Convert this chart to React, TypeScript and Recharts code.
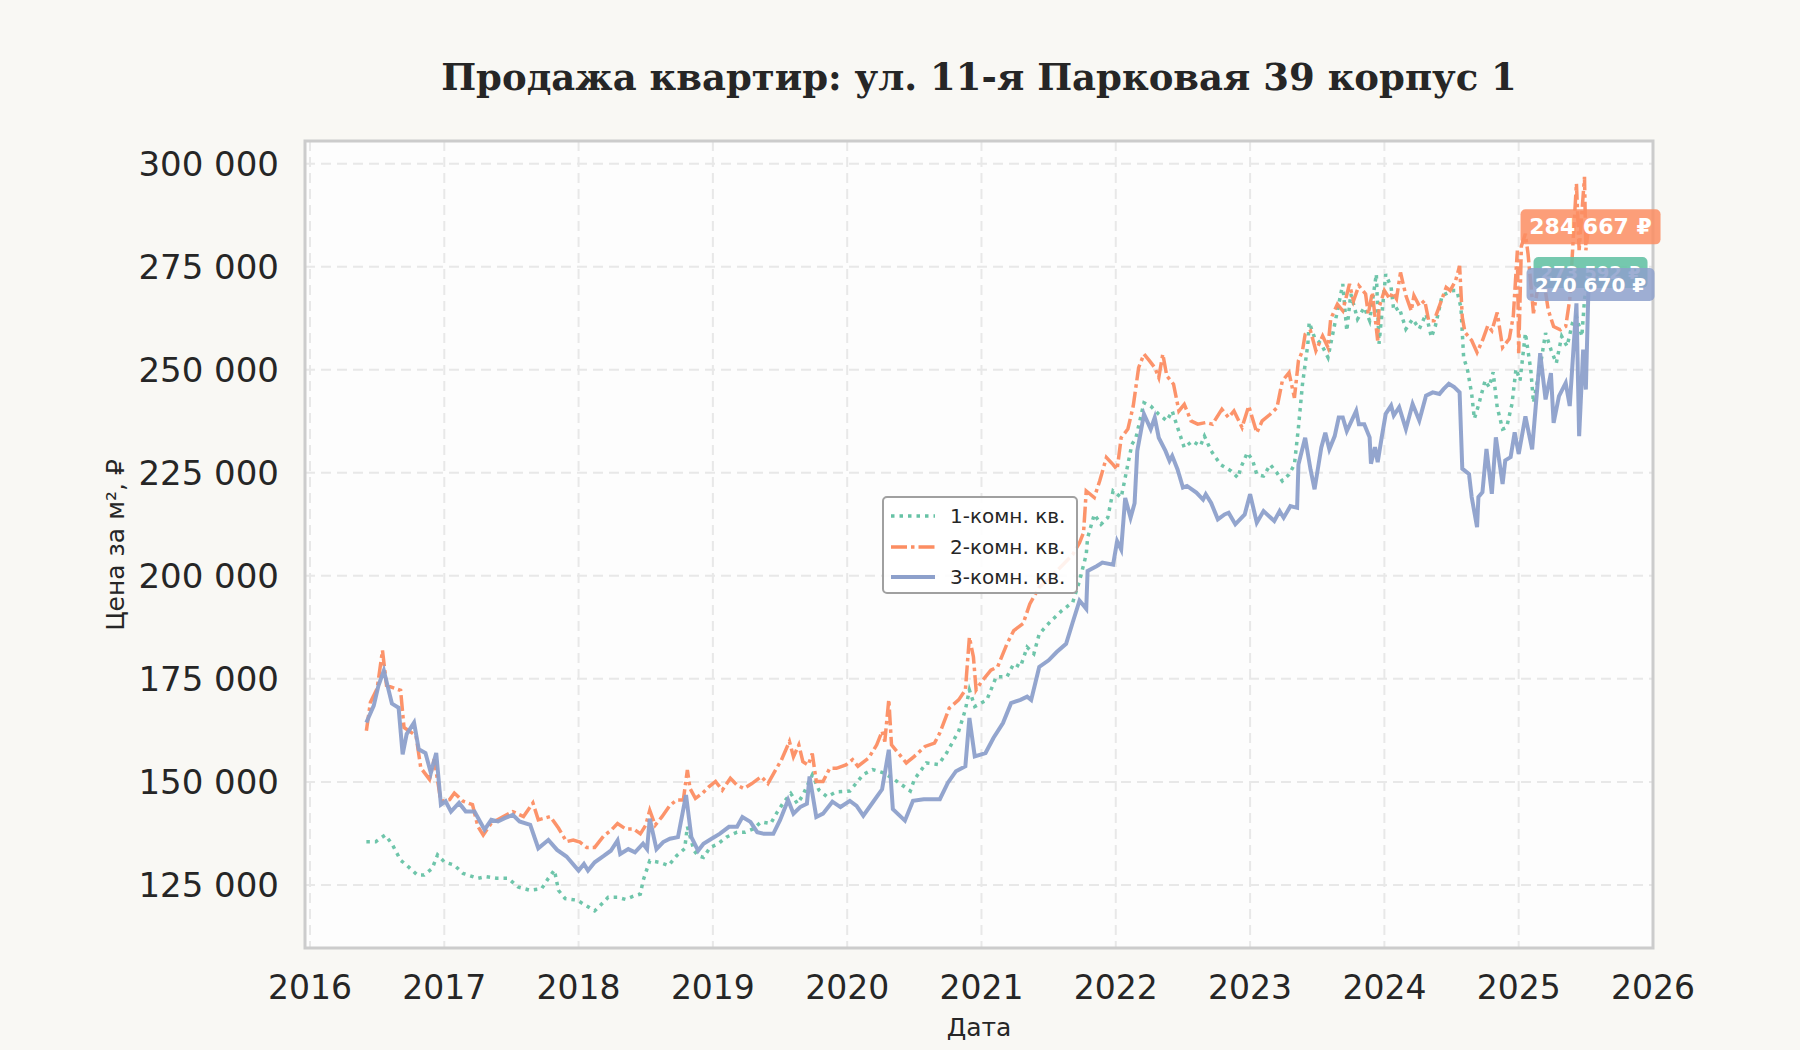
import { LineChart, Line, XAxis, YAxis, CartesianGrid, ReferenceArea, LabelList, Label } from "recharts";

// Ось X: годы, ось Y: цена за м²
const yearTicks = [2016, 2017, 2018, 2019, 2020, 2021, 2022, 2023, 2024, 2025, 2026];
const priceTicks = [125000, 150000, 175000, 200000, 225000, 250000, 275000, 300000];

// [год, цена за м²]
const oneRoom: [number, number][] = [
    [2016.42, 135500], [2016.49, 135500], [2016.56, 137100], [2016.61, 135000], [2016.675, 131000], [2016.72, 129800],
    [2016.8, 127400], [2016.85, 127400], [2016.91, 129000], [2016.95, 132300], [2017.0, 130600], [2017.075, 129800],
    [2017.14, 127800], [2017.25, 126600], [2017.31, 127000], [2017.39, 126600], [2017.475, 126600], [2017.55, 124500],
    [2017.64, 123700], [2017.725, 124100], [2017.775, 126600], [2017.82, 128600], [2017.85, 123700], [2017.9, 121700],
    [2017.99, 121300], [2018.04, 120300], [2018.12, 118700], [2018.17, 120300], [2018.22, 122000], [2018.29, 122000],
    [2018.35, 121500], [2018.41, 122300], [2018.46, 122800], [2018.48, 126000], [2018.53, 130900], [2018.6, 130500],
    [2018.67, 129700], [2018.73, 132100], [2018.79, 133800], [2018.81, 139100], [2018.86, 133300], [2018.89, 132100],
    [2018.93, 131700], [2018.98, 134100], [2019.04, 135000], [2019.1, 136600], [2019.18, 137800], [2019.24, 137800],
    [2019.3, 138600], [2019.36, 140300], [2019.43, 139900], [2019.48, 142700], [2019.53, 145200], [2019.58, 147200],
    [2019.63, 144700], [2019.67, 146800], [2019.74, 151700], [2019.79, 148000], [2019.85, 146400], [2019.92, 147600],
    [2020.02, 147800], [2020.12, 151800], [2020.19, 153000], [2020.27, 152200], [2020.35, 150600], [2020.47, 147800],
    [2020.5, 150600], [2020.59, 154600], [2020.68, 154200], [2020.74, 157000], [2020.83, 162300], [2020.88, 167500],
    [2020.91, 172300], [2020.95, 168300], [2021.04, 169900], [2021.11, 175500], [2021.19, 175500], [2021.24, 178700],
    [2021.29, 177900], [2021.34, 182700], [2021.39, 181100], [2021.43, 185900], [2021.51, 188800], [2021.6, 191600],
    [2021.68, 193600], [2021.73, 198800], [2021.78, 205200], [2021.79, 209200], [2021.84, 214900], [2021.89, 212500],
    [2021.94, 214100], [2021.98, 220600], [2022.04, 219000], [2022.07, 223800], [2022.12, 231900], [2022.15, 233500],
    [2022.21, 242000], [2022.26, 241200], [2022.32, 239200], [2022.38, 237600], [2022.42, 240000], [2022.46, 236000],
    [2022.51, 231100], [2022.57, 232700], [2022.63, 231500], [2022.66, 233900], [2022.71, 230300], [2022.78, 227000],
    [2022.86, 225400], [2022.91, 223800], [2022.93, 226200], [2022.98, 229900], [2023.02, 227900], [2023.05, 224600],
    [2023.1, 224200], [2023.15, 227000], [2023.2, 225000], [2023.24, 223000], [2023.29, 224600], [2023.33, 227000],
    [2023.36, 236000], [2023.39, 246500], [2023.43, 256200], [2023.44, 261500], [2023.48, 257800], [2023.53, 256200],
    [2023.58, 253000], [2023.62, 259400], [2023.69, 270800], [2023.72, 259400], [2023.75, 268400], [2023.8, 262300],
    [2023.85, 265100], [2023.89, 261900], [2023.94, 273200], [2023.96, 256300], [2024.01, 273200], [2024.05, 270000],
    [2024.07, 264300], [2024.11, 265100], [2024.16, 259900], [2024.21, 262300], [2024.26, 259900], [2024.31, 263500],
    [2024.35, 257900], [2024.38, 260700], [2024.43, 268000], [2024.51, 269200], [2024.54, 269200], [2024.57, 265100],
    [2024.59, 253000], [2024.62, 249800], [2024.65, 244100], [2024.67, 238100], [2024.7, 241300], [2024.75, 247400],
    [2024.78, 245800], [2024.81, 249400], [2024.84, 240900], [2024.88, 235600], [2024.91, 236000], [2024.95, 241700],
    [2024.98, 250200], [2025.01, 247400], [2025.05, 258900], [2025.09, 250000], [2025.11, 242000], [2025.16, 250800],
    [2025.2, 258900], [2025.24, 254900], [2025.28, 251600], [2025.32, 258100], [2025.36, 255700], [2025.4, 261300],
    [2025.43, 262900], [2025.47, 258100], [2025.49, 267000], [2025.52, 273592],
];

const twoRoom: [number, number][] = [
    [2016.42, 162400], [2016.45, 169300], [2016.5, 172600], [2016.54, 181900], [2016.57, 173400], [2016.64, 172600],
    [2016.675, 172200], [2016.7, 163200], [2016.79, 161200], [2016.825, 153400], [2016.89, 150600], [2016.925, 155500],
    [2016.975, 145300], [2017.04, 145700], [2017.075, 147300], [2017.14, 145300], [2017.21, 144500], [2017.25, 139200],
    [2017.29, 137100], [2017.35, 140000], [2017.44, 141600], [2017.51, 142800], [2017.59, 141600], [2017.66, 144900],
    [2017.7, 140800], [2017.79, 141600], [2017.85, 138800], [2017.91, 135500], [2017.96, 135900], [2018.01, 135400],
    [2018.06, 134100], [2018.12, 134100], [2018.19, 137000], [2018.24, 138200], [2018.29, 139900], [2018.35, 138600],
    [2018.41, 138600], [2018.46, 137400], [2018.5, 139500], [2018.53, 143100], [2018.57, 139500], [2018.62, 141500],
    [2018.68, 144300], [2018.73, 145600], [2018.78, 145600], [2018.81, 152900], [2018.83, 148400], [2018.87, 146000],
    [2018.92, 147200], [2018.97, 148800], [2019.02, 150100], [2019.07, 148000], [2019.13, 150900], [2019.18, 149200],
    [2019.23, 148400], [2019.29, 149600], [2019.36, 151300], [2019.41, 149600], [2019.46, 152500], [2019.51, 155300],
    [2019.57, 159800], [2019.6, 156100], [2019.64, 159000], [2019.67, 154900], [2019.71, 154100], [2019.74, 156900],
    [2019.77, 150100], [2019.82, 150100], [2019.87, 153300], [2019.92, 153300], [2019.99, 154100], [2020.04, 155400],
    [2020.08, 153800], [2020.16, 155800], [2020.22, 159000], [2020.26, 162300], [2020.28, 159800], [2020.31, 170000],
    [2020.33, 159000], [2020.39, 156600], [2020.44, 154600], [2020.5, 156200], [2020.58, 158600], [2020.65, 159400],
    [2020.69, 161900], [2020.76, 167900], [2020.83, 169900], [2020.88, 172300], [2020.91, 185100], [2020.94, 180300],
    [2020.96, 172300], [2021.0, 174300], [2021.07, 177100], [2021.12, 177900], [2021.19, 183500], [2021.24, 186700],
    [2021.31, 188400], [2021.36, 193200], [2021.43, 197200], [2021.51, 199600], [2021.61, 202800], [2021.68, 205200],
    [2021.73, 208000], [2021.76, 210500], [2021.78, 220600], [2021.84, 219000], [2021.88, 223000], [2021.93, 228700],
    [2021.98, 227000], [2022.01, 225800], [2022.04, 233500], [2022.09, 235600], [2022.13, 241200], [2022.17, 250500],
    [2022.21, 253800], [2022.25, 252200], [2022.29, 250500], [2022.32, 248100], [2022.35, 253800], [2022.38, 248500],
    [2022.43, 246500], [2022.47, 240000], [2022.51, 241600], [2022.56, 237600], [2022.61, 236800], [2022.67, 237200],
    [2022.72, 236800], [2022.79, 240400], [2022.84, 238400], [2022.88, 240000], [2022.94, 236000], [2022.99, 241200],
    [2023.05, 234700], [2023.09, 237600], [2023.15, 239200], [2023.2, 240800], [2023.24, 247300], [2023.29, 249300],
    [2023.33, 243200], [2023.36, 252200], [2023.39, 254600], [2023.41, 258600], [2023.45, 259400], [2023.49, 254600],
    [2023.54, 258200], [2023.58, 255400], [2023.6, 262300], [2023.65, 265900], [2023.69, 264300], [2023.74, 270800],
    [2023.77, 266700], [2023.81, 270400], [2023.86, 268400], [2023.88, 263500], [2023.91, 268800], [2023.95, 257100],
    [2023.96, 265100], [2024.0, 269200], [2024.04, 267200], [2024.06, 268800], [2024.09, 267200], [2024.12, 273600],
    [2024.16, 268000], [2024.2, 264300], [2024.22, 268000], [2024.26, 265500], [2024.3, 266800], [2024.33, 261900],
    [2024.37, 261900], [2024.41, 265500], [2024.46, 270000], [2024.49, 269200], [2024.53, 271600], [2024.56, 275200],
    [2024.58, 262700], [2024.6, 259100], [2024.65, 257100], [2024.69, 254200], [2024.73, 257100], [2024.77, 260700],
    [2024.8, 259500], [2024.84, 263900], [2024.88, 255400], [2024.93, 257500], [2024.96, 263100], [2024.99, 278900],
    [2025.0, 254000], [2025.02, 280000], [2025.05, 283000], [2025.07, 278000], [2025.11, 263700], [2025.14, 269400],
    [2025.19, 271000], [2025.22, 264500], [2025.26, 260500], [2025.31, 259700], [2025.35, 260500], [2025.38, 267000],
    [2025.43, 295200], [2025.45, 279000], [2025.47, 287900], [2025.49, 296800], [2025.5, 279000], [2025.52, 284667],
];

const threeRoom: [number, number][] = [
    [2016.42, 164400], [2016.475, 168500], [2016.51, 173400], [2016.55, 177000], [2016.61, 169000], [2016.66, 168000],
    [2016.69, 156700], [2016.72, 161600], [2016.775, 164400], [2016.81, 157900], [2016.86, 157000], [2016.9, 152200],
    [2016.94, 157000], [2016.975, 144500], [2017.01, 145300], [2017.05, 142800], [2017.11, 144900], [2017.16, 142800],
    [2017.225, 142800], [2017.3, 138400], [2017.35, 140800], [2017.4, 140400], [2017.45, 141200], [2017.51, 142000],
    [2017.56, 140400], [2017.64, 139600], [2017.7, 133900], [2017.775, 135900], [2017.84, 133500], [2017.91, 131900],
    [2018.0, 128500], [2018.04, 130100], [2018.07, 128500], [2018.12, 130500], [2018.19, 132100], [2018.24, 133300],
    [2018.29, 135800], [2018.31, 132500], [2018.37, 133700], [2018.42, 132900], [2018.48, 135000], [2018.51, 133700],
    [2018.53, 141100], [2018.58, 133700], [2018.63, 135400], [2018.68, 136200], [2018.74, 136600], [2018.8, 146800],
    [2018.84, 136600], [2018.89, 133300], [2018.93, 135000], [2018.99, 136200], [2019.05, 137400], [2019.12, 139100],
    [2019.18, 139100], [2019.22, 141500], [2019.28, 140300], [2019.33, 137800], [2019.38, 137400], [2019.45, 137400],
    [2019.5, 140700], [2019.56, 145600], [2019.6, 142300], [2019.65, 143900], [2019.7, 144700], [2019.72, 151300],
    [2019.77, 141500], [2019.82, 142300], [2019.89, 145200], [2019.95, 143900], [2020.02, 145400], [2020.07, 144200],
    [2020.12, 141800], [2020.19, 145000], [2020.26, 148200], [2020.31, 157800], [2020.34, 143400], [2020.43, 140600],
    [2020.49, 145400], [2020.57, 145800], [2020.63, 145800], [2020.69, 145800], [2020.75, 149800], [2020.81, 152600],
    [2020.88, 153800], [2020.91, 165500], [2020.95, 156200], [2021.03, 157000], [2021.09, 160700], [2021.16, 164300],
    [2021.22, 169100], [2021.29, 169900], [2021.34, 170700], [2021.37, 169900], [2021.43, 177900], [2021.5, 179500],
    [2021.56, 181500], [2021.63, 183500], [2021.68, 188800], [2021.73, 194000], [2021.78, 192000], [2021.79, 201200],
    [2021.86, 202400], [2021.9, 203200], [2021.98, 202700], [2022.01, 208400], [2022.04, 206400], [2022.07, 218900],
    [2022.11, 214100], [2022.14, 217600], [2022.16, 230300], [2022.21, 239200], [2022.26, 235600], [2022.29, 238400],
    [2022.32, 233500], [2022.37, 230300], [2022.4, 227900], [2022.42, 229100], [2022.46, 225800], [2022.5, 221400],
    [2022.53, 221800], [2022.6, 220200], [2022.65, 218500], [2022.67, 219800], [2022.71, 217700], [2022.76, 213700],
    [2022.81, 214900], [2022.84, 215300], [2022.89, 212500], [2022.96, 214900], [2023.0, 219800], [2023.05, 212900],
    [2023.1, 215700], [2023.18, 213300], [2023.22, 215700], [2023.25, 214100], [2023.3, 216900], [2023.35, 216500],
    [2023.36, 227000], [2023.41, 233500], [2023.45, 225800], [2023.48, 221000], [2023.53, 231100], [2023.56, 234700],
    [2023.59, 230700], [2023.63, 233900], [2023.66, 238400], [2023.69, 238400], [2023.72, 235100], [2023.79, 240000],
    [2023.81, 236800], [2023.85, 236800], [2023.89, 233600], [2023.9, 227200], [2023.93, 231200], [2023.95, 227600],
    [2023.98, 233600], [2024.01, 239300], [2024.05, 241300], [2024.07, 238900], [2024.11, 240900], [2024.16, 235600],
    [2024.21, 241700], [2024.26, 237700], [2024.31, 243700], [2024.36, 244500], [2024.41, 244100], [2024.44, 245300],
    [2024.48, 246600], [2024.52, 245800], [2024.56, 244500], [2024.58, 226000], [2024.63, 224700], [2024.65, 219100],
    [2024.69, 211800], [2024.7, 219100], [2024.73, 220300], [2024.76, 230800], [2024.8, 219900], [2024.83, 233600],
    [2024.88, 222300], [2024.9, 228000], [2024.94, 228800], [2024.97, 234800], [2025.0, 229600], [2025.05, 238700],
    [2025.1, 230700], [2025.16, 254000], [2025.2, 242800], [2025.24, 249200], [2025.26, 237100], [2025.3, 243600],
    [2025.35, 246800], [2025.38, 241200], [2025.43, 266100], [2025.45, 233900], [2025.48, 254900], [2025.5, 245200],
    [2025.52, 270670],
];

const seriesNames = ["1-комн. кв.", "2-комн. кв.", "3-комн. кв."];

const GREEN = "#66c2a5";
const ORANGE = "#fc8d62";
const BLUE = "#8da0cb";
const FONT = "'DejaVu Sans', sans-serif";

const toPoints = (rows: [number, number][]) => rows.map(([t, v]) => ({ t, v }));

const fmt = (v: number) => String(Math.round(v)).replace(/\B(?=(\d{3})+(?!\d))/g, " ");

// подпись последнего значения в плашке
const endLabel = (total: number, color: string, fontSize: number, boxW: number, opacity: number) =>
    (props: any) => {
        const { x, y, value, index } = props;
        if (index !== total - 1 || x == null || y == null) return null;
        const h = fontSize + 13;
        return (
            <g>
                <rect x={x + 2 - boxW / 2} y={y - h / 2} width={boxW} height={h} rx={5} fill={color} fillOpacity={opacity} />
                <text x={x + 2} y={y} textAnchor="middle" dominantBaseline="central" fill="#fff"
                    fontFamily={FONT} fontWeight="bold" fontSize={fontSize}>
                    {fmt(value)} ₽
                </text>
            </g>
        );
    };

const legendItems = [
    { name: seriesNames[0], color: GREEN, dash: "3.5 5", width: 3.5 },
    { name: seriesNames[1], color: ORANGE, dash: "16 4 3.5 4", width: 3.5 },
    { name: seriesNames[2], color: BLUE, dash: undefined, width: 4 },
];

export default function App() {
    const xDomain = [2015.963, 2026];
    const yDomain = [109700, 305500];

    return (
        <div style={{ position: "absolute", left: 0, top: 0, width: 1800, height: 1050, background: "#f9f8f4", fontFamily: FONT }}>
            <div style={{
                position: "absolute", left: 979, top: 54, transform: "translateX(-50%)", whiteSpace: "nowrap",
                fontFamily: "'DejaVu Serif', serif", fontWeight: "bold", fontSize: 37, lineHeight: "46px", color: "#262626",
            }}>
                Продажа квартир: ул. 11-я Парковая 39 корпус 1
            </div>

            <LineChart width={1800} height={1050} margin={{ top: 141, right: 147, bottom: 0, left: 0 }}>
                <CartesianGrid stroke="#e8e8e8" strokeWidth={2} strokeDasharray="10 6" fill="#fdfdfd" />
                <XAxis
                    type="number"
                    dataKey="t"
                    domain={xDomain}
                    ticks={yearTicks}
                    interval={0}
                    allowDataOverflow
                    height={102}
                    axisLine={false}
                    tickLine={false}
                    tickSize={0}
                    tickMargin={28}
                    tick={{ fontSize: 33, fill: "#262626", fontFamily: FONT }}
                >
                    <Label content={() => (
                        <text x={979} y={1027} textAnchor="middle" dominantBaseline="central" fontSize={25} fill="#262626" fontFamily={FONT}>Дата</text>
                    )} />
                </XAxis>
                <YAxis
                    type="number"
                    domain={yDomain}
                    ticks={priceTicks}
                    interval={0}
                    allowDataOverflow
                    width={305}
                    axisLine={false}
                    tickLine={false}
                    tickSize={0}
                    tickMargin={26}
                    tickFormatter={fmt}
                    tick={{ fontSize: 34, fill: "#262626", fontFamily: FONT }}
                >
                    <Label content={() => (
                        <text x={115} y={545} transform="rotate(-90 115 545)" textAnchor="middle" dominantBaseline="central"
                            fontSize={25} fill="#262626" fontFamily={FONT}>Цена за м², ₽</text>
                    )} />
                </YAxis>
                <ReferenceArea x1={xDomain[0]} x2={xDomain[1]} y1={yDomain[0]} y2={yDomain[1]} fill="none" stroke="#cccccc" strokeWidth={3} />

                <Line data={toPoints(oneRoom)} dataKey="v" name={seriesNames[0]} type="linear" stroke={GREEN} strokeWidth={3.5}
                    strokeDasharray="3.5 5" strokeOpacity={0.95} dot={false} activeDot={false} isAnimationActive={false}>
                    <LabelList dataKey="v" content={endLabel(oneRoom.length, GREEN, 18, 114, 0.9)} />
                </Line>
                <Line data={toPoints(twoRoom)} dataKey="v" name={seriesNames[1]} type="linear" stroke={ORANGE} strokeWidth={3.5}
                    strokeDasharray="16 4 3.5 4" strokeOpacity={0.95} dot={false} activeDot={false} isAnimationActive={false}>
                    <LabelList dataKey="v" content={endLabel(twoRoom.length, ORANGE, 22, 140, 0.85)} />
                </Line>
                <Line data={toPoints(threeRoom)} dataKey="v" name={seriesNames[2]} type="linear" stroke={BLUE} strokeWidth={4}
                    strokeOpacity={0.95} dot={false} activeDot={false} isAnimationActive={false}>
                    <LabelList dataKey="v" content={endLabel(threeRoom.length, BLUE, 20, 128, 0.85)} />
                </Line>
            </LineChart>

            <div style={{
                position: "absolute", left: 882, top: 496, width: 196, height: 98, boxSizing: "border-box",
                border: "2.5px solid #a0a0a0", borderRadius: 5, background: "rgba(255,255,255,0.88)",
                padding: "3px 0 0 5px",
            }}>
                {legendItems.map((it) => (
                    <div key={it.name} style={{ display: "flex", alignItems: "center", height: 30.5 }}>
                        <svg width={50} height={10} style={{ marginRight: 11 }}>
                            <line x1={2} y1={5} x2={46} y2={5} stroke={it.color} strokeWidth={it.width} strokeDasharray={it.dash} />
                        </svg>
                        <span style={{ fontSize: 20, color: "#262626", whiteSpace: "nowrap" }}>{it.name}</span>
                    </div>
                ))}
            </div>
        </div>
    );
}
